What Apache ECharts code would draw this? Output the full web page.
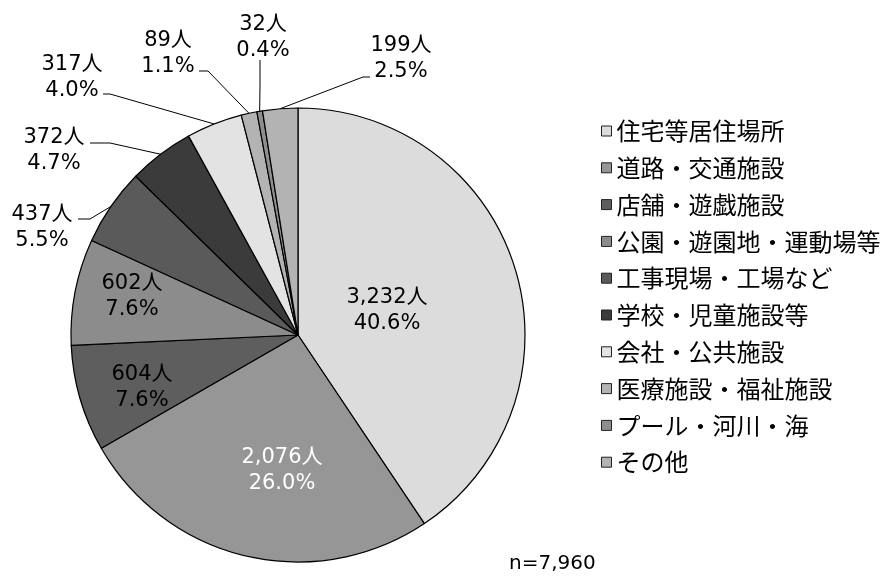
<!DOCTYPE html>
<html>
<head>
<meta charset="utf-8">
<script src="https://cdn.jsdelivr.net/npm/echarts@6/dist/echarts.min.js"></script>
<style>
  html, body { margin: 0; padding: 0; background: #fff; }
  #chart { width: 887px; height: 576px; }
</style>
</head>
<body>
<div id="chart"></div>
<script>
var categories = ['住宅等居住場所', '道路・交通施設', '店舗・遊戯施設', '公園・遊園地・運動場等', '工事現場・工場など',
  '学校・児童施設等', '会社・公共施設', '医療施設・福祉施設', 'プール・河川・海', 'その他'];
var counts = [3232, 2076, 604, 602, 437, 372, 317, 89, 32, 199];
var percentLabels = ['40.6%', '26.0%', '7.6%', '7.6%', '5.5%', '4.7%', '4.0%', '1.1%', '0.4%', '2.5%'];
var totalLabel = 'n=7,960';

(function() {
  var colors = ['#dcdcdc', '#969696', '#5e5e5e', '#8c8c8c', '#5a5a5a', '#3b3b3b', '#e3e3e3', '#b3b3b3', '#8e8e8e', '#b3b3b3'];
  var numFont = '"DejaVu Sans", "Noto Sans CJK JP", sans-serif';
  var jpFont = '"Noto Sans CJK JP", sans-serif';

  // where each label sits; outside labels also get the elbow/end of their leader line
  var labelPlace = [
    { x: 387, y: 311 },
    { x: 282, y: 471 },
    { x: 142, y: 388 },
    { x: 132, y: 297 },
    { x: 42, y: 228, line: [[90, 219], [78, 219]] },
    { x: 54, y: 151, line: [[110, 143], [90, 143]] },
    { x: 72, y: 78, line: [[110, 94], [103, 94]] },
    { x: 168, y: 54, line: [[208, 71], [199, 71]] },
    { x: 263, y: 38, line: [[260, 85], [260, 60]] },
    { x: 401, y: 59, line: [[363, 77], [370, 77]] }
  ];

  function withComma(n) {
    return String(n).replace(/\B(?=(\d{3})+(?!\d))/g, ',');
  }

  var data = categories.map(function(name, i) {
    var item = { name: name, value: counts[i], itemStyle: { color: colors[i] } };
    if (!labelPlace[i].line) item.labelLine = { show: false };
    if (i === 1) item.label = { color: '#fff' };
    return item;
  });

  var chart = echarts.init(document.getElementById('chart'), null, { renderer: 'canvas' });
  chart.setOption({
    animation: false,
    backgroundColor: '#fff',
    legend: {
      orient: 'vertical',
      left: 596,
      top: 114,
      itemWidth: 10,
      itemHeight: 10,
      itemGap: 12.8,
      icon: 'rect',
      itemStyle: { borderColor: '#222', borderWidth: 1 },
      textStyle: { color: '#000', fontSize: 24, lineHeight: 24, fontFamily: jpFont },
      data: categories
    },
    graphic: [{
      type: 'text',
      left: 509,
      top: 554,
      style: { text: totalLabel, fill: '#000', font: '20px "DejaVu Sans", sans-serif' }
    }],
    series: [{
      type: 'pie',
      center: [298, 335],
      radius: 227,
      startAngle: 90,
      clockwise: true,
      avoidLabelOverlap: false,
      itemStyle: { borderColor: '#000', borderWidth: 1.2 },
      emphasis: { disabled: true },
      label: {
        show: true,
        position: 'outside',
        color: '#000',
        fontSize: 21,
        lineHeight: 26,
        fontFamily: numFont,
        formatter: function(p) {
          return withComma(p.value) + '人\n' + percentLabels[p.dataIndex];
        }
      },
      labelLine: { show: true, lineStyle: { color: '#000', width: 1 } },
      labelLayout: function(params) {
        var place = labelPlace[params.dataIndex];
        var out = { x: place.x, y: place.y, align: 'center', verticalAlign: 'middle' };
        if (place.line && params.labelLinePoints) {
          out.labelLinePoints = [params.labelLinePoints[0], place.line[0], place.line[1]];
        }
        return out;
      },
      data: data
    }]
  });
  window.addEventListener('resize', function() { chart.resize(); });
})();
</script>
</body>
</html>
